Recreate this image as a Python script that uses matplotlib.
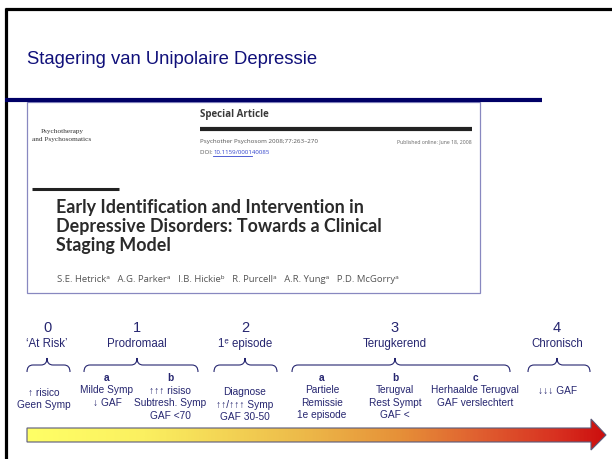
import numpy as np
import matplotlib.pyplot as plt
from matplotlib.path import Path
from matplotlib.patches import PathPatch, Rectangle
from matplotlib.colors import LinearSegmentedColormap

plt.rcParams['font.family'] = ['Liberation Sans', 'DejaVu Sans']

# slide text
slide_title = 'Stagering van Unipolaire Depressie'

# article snapshot text
journal_name = ['Psychotherapy', 'and Psychosomatics']
article_kind = 'Special Article'
citation = 'Psychother Psychosom 2008;77:263\u2013270'
doi_prefix = 'DOI: '
doi = '10.1159/000140085'
published = 'Published online: June 18, 2008'
article_title = ['Early Identification and Intervention in',
                 'Depressive Disorders: Towards a Clinical',
                 'Staging Model']
authors = 'S.E. Hetrick\u1d43   A.G. Parker\u1d43   I.B. Hickie\u1d47   R. Purcell\u1d43   A.R. Yung\u1d43   P.D. McGorry\u1d43'

# staging model
stage_nums = ['0', '1', '2', '3', '4']
stage_names = ['\u2018At Risk\u2019', 'Prodromaal', '1\u1d49 episode', 'Terugkerend', 'Chronisch']
sub_letters = ['', 'a', 'b', '', 'a', 'b', 'c', '']
sub_texts = [
    ['\u2191 risico', 'Geen Symp'],
    ['Milde Symp', '\u2193 GAF'],
    ['\u2191\u2191\u2191 risiso', 'Subtresh. Symp', 'GAF <70'],
    ['Diagnose', '\u2191\u2191/\u2191\u2191\u2191 Symp', 'GAF 30-50'],
    ['Partiele', 'Remissie', '1e episode'],
    ['Terugval', 'Rest Sympt', 'GAF <'],
    ['Herhaalde Terugval', 'GAF verslechtert'],
    ['\u2193\u2193\u2193 GAF'],
]

# layout (pixel units of the slide)
stage_x = [47, 137, 245, 395, 557]
brace_span = [(27, 70), (84, 198), (214, 277), (292, 510), (528, 590)]
sub_x = [44, 107, 170, 245, 322, 395, 475, 558]
sub_y0 = [393, 390, 391, 392, 390, 390, 390, 391]

navy = '#10107a'
txt = '#262670'
paper = ['Open Sans', 'DejaVu Sans']


def brace(ax, x0, x1, xm, ytop=358, yend=372, color=txt):
    ymid = (ytop + yend) / 2
    r = 6
    verts = [(x0, yend), (x0, ymid), (x0 + r, ymid),
             (xm - r, ymid), (xm, ymid), (xm, ytop),
             (xm, ymid), (xm + r, ymid),
             (x1 - r, ymid), (x1, ymid), (x1, yend)]
    codes = [Path.MOVETO, Path.CURVE3, Path.CURVE3,
             Path.LINETO, Path.CURVE3, Path.CURVE3,
             Path.CURVE3, Path.CURVE3,
             Path.LINETO, Path.CURVE3, Path.CURVE3]
    ax.add_patch(PathPatch(Path(verts, codes), fill=False, edgecolor=color, lw=0.8))


fig = plt.figure(figsize=(6.12, 4.59), dpi=100)
ax = fig.add_axes([0, 0, 1, 1])
ax.set_xlim(0, 612)
ax.set_ylim(459, 0)
ax.axis('off')

# slide frame
ax.plot([5, 612], [9, 9], color='black', lw=2.3, solid_capstyle='butt')
ax.plot([6, 6], [8, 459], color='black', lw=2.3, solid_capstyle='butt')
ax.text(27, 60, slide_title, color=navy, fontsize=13.3, va='center', ha='left')
ax.plot([5, 542], [100, 100], color='#000066', lw=3, solid_capstyle='butt')

# article snapshot
ax.add_patch(Rectangle((27, 102), 453, 191, fill=False, edgecolor='#8888c0', lw=0.9))
ax.text(62, 132, journal_name[0], fontsize=5.2, color='#333333', ha='center', va='center',
        family=['Liberation Serif', 'DejaVu Serif'])
ax.text(62, 140, journal_name[1], fontsize=5.2, color='#333333', ha='center', va='center',
        family=['Liberation Serif', 'DejaVu Serif'])
ax.text(200, 114, article_kind, fontsize=7, fontweight='bold', color='#3a3a3a',
        family=paper, va='center')
ax.plot([200, 472], [129, 129], color='#222222', lw=3, solid_capstyle='butt')
ax.text(200, 142, citation, fontsize=4.5, color='#555555', va='center', family=paper)
ax.text(200, 152, doi_prefix, fontsize=4.4, color='#555555', va='center', family=paper)
ax.text(213, 152, doi, fontsize=4.4, color='#3344cc', va='center', family=paper)
ax.plot([213, 252], [156, 156], color='#3344cc', lw=0.6)
ax.text(472, 142, published, fontsize=3.7, color='#666666', va='center', ha='right',
        family=paper)
ax.plot([32, 119], [189, 189], color='#222222', lw=2.2, solid_capstyle='butt')
for i, line in enumerate(article_title):
    ax.text(56, 208 + i * 18.5, line, fontsize=12.9, fontweight='bold', color='#2a2a2a',
            va='center', family=['Lato', 'DejaVu Sans'])
ax.text(57, 280, authors, fontsize=6.8, color='#555555', va='center', family=paper)

# stages
for i in range(len(stage_nums)):
    ax.text(stage_x[i], 328, stage_nums[i], fontsize=10.5, color=txt, ha='center', va='center')
    ax.text(stage_x[i], 344, stage_names[i], fontsize=8.3, color=txt, ha='center', va='center')
    brace(ax, brace_span[i][0], brace_span[i][1], stage_x[i])

for j in range(len(sub_texts)):
    if sub_letters[j]:
        ax.text(sub_x[j], 378, sub_letters[j], fontsize=7.3, fontweight='bold',
                color=txt, ha='center', va='center')
    for k, line in enumerate(sub_texts[j]):
        ax.text(sub_x[j], sub_y0[j] + k * 12.5, line, fontsize=7.3, color=txt,
                ha='center', va='center')

# gradient arrow
ax0, ax1 = 27, 606
arrow = [(27, 428), (591, 428), (591, 419), (606, 435), (591, 450),
         (591, 442), (27, 442), (27, 428)]
arrow_patch = PathPatch(Path(arrow, closed=True), facecolor='none',
                        edgecolor='#5a5a7a', lw=0.8, zorder=3)
ax.add_patch(arrow_patch)
cmap = LinearSegmentedColormap.from_list('stage', [
    (0.0, '#ffff66'), (0.2, '#fbf060'), (0.47, '#edbb4a'),
    (0.645, '#e69038'), (0.78, '#e06030'), (0.92, '#d83020'), (1.0, '#cc0e0e')])
grad = np.linspace(0, 1, 400).reshape(1, -1)
im = ax.imshow(grad, cmap=cmap, extent=(ax0, ax1, 451, 418), aspect='auto', zorder=2)
im.set_clip_path(arrow_patch)
ax.set_xlim(0, 612)
ax.set_ylim(459, 0)

fig.savefig('out.png', dpi=100)
